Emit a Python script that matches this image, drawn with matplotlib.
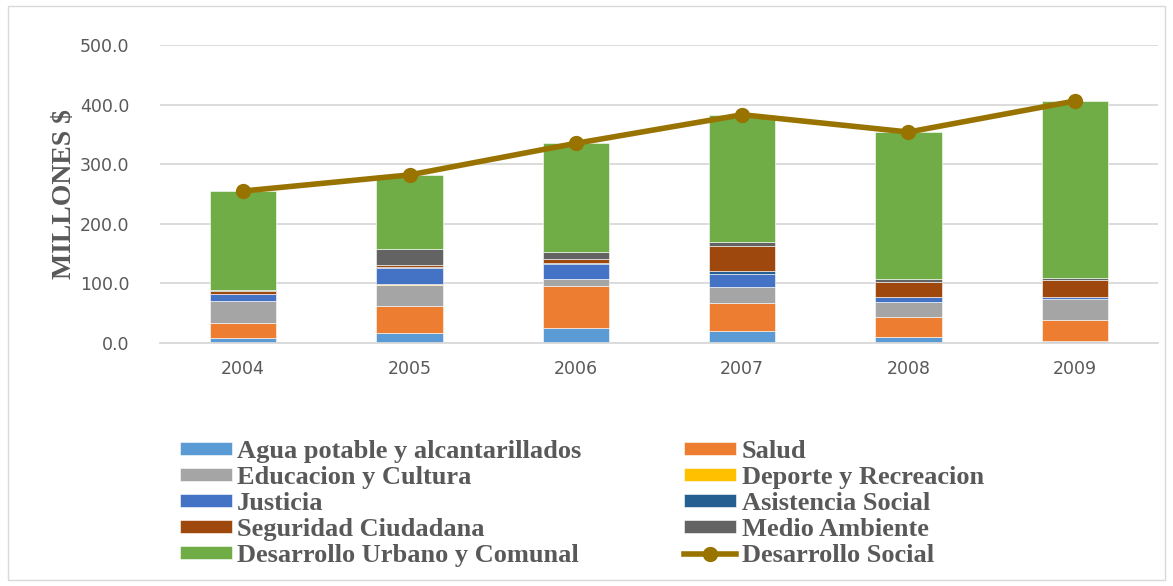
import matplotlib.pyplot as plt
from matplotlib.patches import Rectangle
import numpy as np

years = ["2004", "2005", "2006", "2007", "2008", "2009"]

agua = [9, 17, 26, 20, 10, 3]
salud = [24, 45, 70, 47, 33.5, 35]
educacion = [37.5, 36, 11, 27, 25.5, 36]
deporte = [0.5, 0.5, 0.5, 0.5, 0.5, 0.5]
justicia = [11, 27, 24.5, 21.5, 8, 3]
asistencia = [1, 2, 2, 4, 0.5, 0.5]
seguridad = [5, 3, 6.5, 42, 25, 28]
medio = [0.5, 27, 12.5, 8, 4.5, 3]
urbano = [166, 125, 182, 213, 246.5, 297]
social = [255, 282, 335, 383, 354, 406]

series = [
    ("Agua potable y alcantarillados", agua, "#5B9BD5"),
    ("Salud", salud, "#ED7D31"),
    ("Educacion y Cultura", educacion, "#A5A5A5"),
    ("Deporte y Recreacion", deporte, "#FFC000"),
    ("Justicia", justicia, "#4472C4"),
    ("Asistencia Social", asistencia, "#255E91"),
    ("Seguridad Ciudadana", seguridad, "#9E480E"),
    ("Medio Ambiente", medio, "#636363"),
    ("Desarrollo Urbano y Comunal", urbano, "#70AD47"),
]
line_color = "#997300"
text_gray = "#595959"

fig = plt.figure(figsize=(11.73, 5.86), dpi=100)
ax = fig.add_axes([160 / 1173, 1 - 343 / 586, 998 / 1173, 298 / 586])

x = np.arange(len(years))
bottom = np.zeros(len(years))
handles = {}
for name, vals, col in series:
    b = ax.bar(x, vals, width=0.4, bottom=bottom, color=col,
               edgecolor="white", linewidth=0.4, label=name, zorder=2)
    handles[name] = b
    bottom += np.array(vals)

ln, = ax.plot(x, social, color=line_color, lw=4, marker="o", ms=10,
              zorder=3, label="Desarrollo Social")
handles["Desarrollo Social"] = ln

ax.set_xlim(-0.5, len(years) - 0.5)
ax.set_ylim(0, 500)
ax.set_yticks(np.arange(0, 501, 100))
ax.set_yticklabels([f"{v:.1f}" for v in range(0, 501, 100)])
ax.set_xticks(x)
ax.set_xticklabels(years)
ax.tick_params(axis="both", length=0, labelsize=12.5, colors=text_gray)
ax.tick_params(axis="y", pad=22)
ax.tick_params(axis="x", pad=12)
ax.grid(axis="y", color="#D9D9D9", lw=1.3, zorder=0)
for s in ["top", "right", "left"]:
    ax.spines[s].set_visible(False)
ax.spines["bottom"].set_color("#D9D9D9")
ax.spines["bottom"].set_linewidth(1.3)
ax.set_ylabel("MILLONES $", fontsize=20, fontweight="bold",
              family="Liberation Serif", color=text_gray, labelpad=2)

order = ["Agua potable y alcantarillados", "Educacion y Cultura", "Justicia",
         "Seguridad Ciudadana", "Desarrollo Urbano y Comunal",
         "Salud", "Deporte y Recreacion", "Asistencia Social",
         "Medio Ambiente", "Desarrollo Social"]
leg = fig.legend([handles[k] for k in order], order, ncol=2,
                 loc="upper left", bbox_to_anchor=(180 / 1173, 1 - 440 / 586),
                 frameon=False, handlelength=1.97, handleheight=0.38,
                 handletextpad=0.2, columnspacing=3.9, labelspacing=0.115,
                 borderaxespad=0, borderpad=0,
                 prop={"family": "Liberation Serif", "weight": "bold", "size": 19})
for t in leg.get_texts():
    t.set_color(text_gray)

fig.patches.append(Rectangle((8 / 1173, 6 / 586), 1157 / 1173, 574 / 586,
                             transform=fig.transFigure, fill=False,
                             edgecolor="#D9D9D9", lw=1))

fig.savefig("out.png", dpi=100)
